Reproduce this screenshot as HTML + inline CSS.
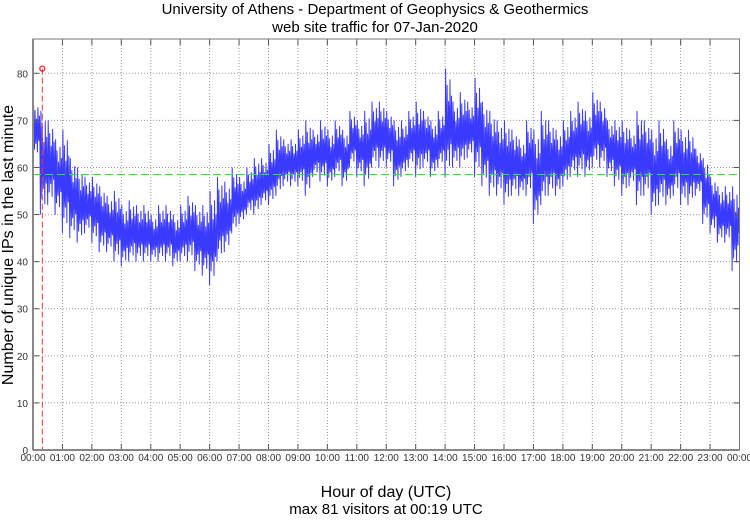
<!DOCTYPE html>
<html><head><meta charset="utf-8"><style>
body{margin:0;background:#fff;width:750px;height:515px;overflow:hidden}
svg text{font-family:"Liberation Sans",sans-serif}
</style></head><body>
<svg id="chart" width="750" height="515" xmlns="http://www.w3.org/2000/svg">
<text x="375" y="14" text-anchor="middle" font-size="15">University of Athens - Department of Geophysics &amp; Geothermics</text>
<text x="375" y="32" text-anchor="middle" font-size="15">web site traffic for 07-Jan-2020</text>
<text x="386" y="497" text-anchor="middle" font-size="16">Hour of day (UTC)</text>
<text x="386" y="514" text-anchor="middle" font-size="15">max 81 visitors at 00:19 UTC</text>
<text transform="translate(13,245) rotate(-90)" text-anchor="middle" font-size="16">Number of unique IPs in the last minute</text>
<g id="grid"></g><g id="series"></g><g id="frame"></g>
</svg>
<script>
const hourLabels=["00:00","01:00","02:00","03:00","04:00","05:00","06:00","07:00","08:00","09:00","10:00","11:00","12:00","13:00","14:00","15:00","16:00","17:00","18:00","19:00","20:00","21:00","22:00","23:00","00:00"];
const yTicks=[0,10,20,30,40,50,60,70,80];
// per 15-minute interval lows and highs
const lows=[62,50,52,50, 46,45,44,46, 44,42,42,40, 39,40,40,40, 40,40,40,39, 40,40,38,37, 35,40,42,46, 48,50,50,52, 52,54,56,56, 56,54,58,57, 56,58,56,60, 58,56,60,60, 60,56,58,60, 58,60,58,60, 58,60,60,62, 58,56,54,54, 52,54,54,54, 48,52,54,54, 56,58,58,58, 60,60,58,56, 54,56,52,54, 50,52,52,54, 52,52,54,48, 46,44,44,38];
const highs=[74,72,70,66, 68,62,60,58, 58,56,54,55, 52,53,52,52, 50,52,52,50, 52,54,52,52, 55,58,57,60, 58,60,62,62, 65,68,66,66, 68,70,68,70, 68,70,68,72, 70,72,74,74, 72,70,70,72, 74,72,70,72, 81,74,76,74, 79,74,72,70, 70,68,66,70, 68,72,70,68, 70,72,74,72, 76,74,70,70, 70,68,72,70, 68,70,66,70, 68,68,64,62, 58,56,56,56];
const meanValue=58.5;
const maxValue=81, maxMinute=19;
const X0=33,X1=739.5,Y0=450,Y1=39;
const xs=m=>X0+(X1-X0)*m/1440;
const ys=v=>Y0-(Y0-73.3)*v/80;
const NS="http://www.w3.org/2000/svg";
function mk(tag,attrs,parent){const e=document.createElementNS(NS,tag);for(const k in attrs)e.setAttribute(k,attrs[k]);parent.appendChild(e);return e;}
const grid=document.getElementById('grid'),series=document.getElementById('series'),frame=document.getElementById('frame');
hourLabels.forEach((l,i)=>{
  const x=xs(i*60);
  if(i>0&&i<24){const g=mk('line',{x1:x,x2:x,y1:Y1,y2:Y0,stroke:'#999','stroke-dasharray':'1,2','stroke-width':1},grid);
  
  
  mk('line',{x1:x,x2:x,y1:Y0,y2:Y0-6,stroke:'#555'},frame);mk('line',{x1:x,x2:x,y1:Y1,y2:Y1+6,stroke:'#555'},frame);}
  const t=mk('text',{x:x,y:461,'text-anchor':'middle','font-size':10,fill:'#333'},frame);t.textContent=l;
  
  
});
yTicks.forEach(v=>{
  const y=ys(v);
  if(v>0){const g=mk('line',{x1:X0,x2:X1,y1:y,y2:y,stroke:'#999','stroke-dasharray':'1,2'},grid);
  
  
  mk('line',{x1:X0,x2:X0+6,y1:y,y2:y,stroke:'#555'},frame);mk('line',{x1:X1-6,x2:X1,y1:y,y2:y,stroke:'#555'},frame);}
  const t=mk('text',{x:28,y:y+4,'text-anchor':'end','font-size':10,fill:'#333'},frame);t.textContent=v;
  
  
});
let pts=[];
lows.forEach((lo,i)=>{const hi=highs[i];const base=i*15;const r=hi-lo;
  const fr=[0,1,0.5,0.15,0.85,0.35,0.25,0.7,0.55,0.1,0.9,0.4,0.3,0.75,0.45];
  fr.forEach((f,j)=>pts.push(xs(base+j).toFixed(1)+','+ys(lo+r*f).toFixed(1)));
});
const ln=mk('polyline',{points:pts.join(' '),fill:'none',stroke:'#3a3aff','stroke-width':1},series);


const mean=mk('line',{x1:X0,x2:X1,y1:ys(meanValue),y2:ys(meanValue),stroke:'#22ee22','stroke-dasharray':'8,4'},series);


const mx=xs(maxMinute);
const ml=mk('line',{x1:mx,x2:mx,y1:ys(maxValue),y2:Y0,stroke:'#ff3333','stroke-dasharray':'6,3'},series);


const mc=mk('circle',{cx:mx,cy:ys(maxValue),r:2.5,fill:'none',stroke:'#ff2222','stroke-width':1.3},series);


const frm=mk('rect',{x:X0,y:Y1,width:X1-X0,height:Y0-Y1,fill:'none',stroke:'#777','stroke-width':1},frame);


mk('line',{x1:X0,x2:X0,y1:Y1,y2:Y0,stroke:'#888','stroke-width':2},frame);
mk('line',{x1:X0,x2:X1,y1:Y0,y2:Y0,stroke:'#888','stroke-width':2},frame);
</script>
</body></html>
